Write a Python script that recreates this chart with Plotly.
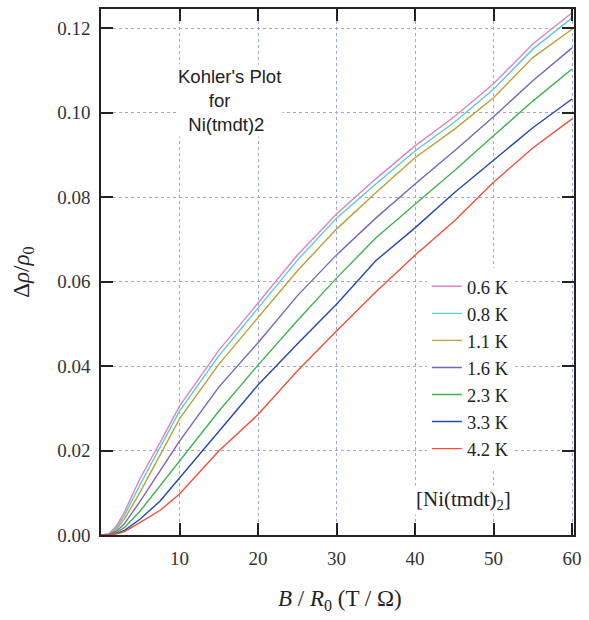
import plotly.graph_objects as go

# ---- data ----
x_vals = [0, 1, 2, 3, 5, 7.5, 10, 15, 20, 25, 30, 35, 40, 45, 50, 55, 60]

labels = ["0.6 K", "0.8 K", "1.1 K", "1.6 K", "2.3 K", "3.3 K", "4.2 K"]

y_06 = [0, 0.0003, 0.0022, 0.0055, 0.0135, 0.0218, 0.0305, 0.0437, 0.0549, 0.0662, 0.0760, 0.0843, 0.0921, 0.0990, 0.1068, 0.1162, 0.1236]
y_08 = [0, 0.0002, 0.0018, 0.0047, 0.0120, 0.0205, 0.0293, 0.0424, 0.0537, 0.0650, 0.0750, 0.0831, 0.0909, 0.0977, 0.1055, 0.1150, 0.1224]
y_11 = [0, 0.0001, 0.0014, 0.0038, 0.0102, 0.0188, 0.0275, 0.0404, 0.0514, 0.0625, 0.0724, 0.0810, 0.0893, 0.0960, 0.1035, 0.1130, 0.1197]
y_16 = [0, 0.0001, 0.0009, 0.0027, 0.0080, 0.0151, 0.0222, 0.0350, 0.0455, 0.0566, 0.0663, 0.0750, 0.0831, 0.0909, 0.0990, 0.1075, 0.1153]
y_23 = [0, 0.0000, 0.0006, 0.0018, 0.0057, 0.0116, 0.0175, 0.0293, 0.0402, 0.0507, 0.0608, 0.0703, 0.0783, 0.0862, 0.0945, 0.1027, 0.1103]
y_33 = [0, 0.0000, 0.0004, 0.0011, 0.0038, 0.0080, 0.0135, 0.0246, 0.0355, 0.0452, 0.0546, 0.0649, 0.0727, 0.0810, 0.0888, 0.0964, 0.1032]
y_42 = [0, 0.0000, 0.0003, 0.0008, 0.0030, 0.0058, 0.0097, 0.0199, 0.0285, 0.0388, 0.0483, 0.0575, 0.0662, 0.0743, 0.0835, 0.0916, 0.0985]

series = [y_06, y_08, y_11, y_16, y_23, y_33, y_42]
colors = ["#dc82c4", "#5ccccc", "#b8a232", "#7c62c0", "#3db34c", "#2149ad", "#f0503a"]

x_ticks = [10, 20, 30, 40, 50, 60]
y_ticks = [0.00, 0.02, 0.04, 0.06, 0.08, 0.10, 0.12]

fig = go.Figure()
for lab, ys, c in zip(labels, series, colors):
    fig.add_trace(go.Scatter(x=x_vals, y=ys, mode="lines", name=lab,
                             line=dict(color=c, width=1.4)))

serif = "Liberation Serif, Times New Roman, serif"
grid = "#9aa6dc"

fig.update_layout(
    width=589, height=620,
    margin=dict(l=101, r=7, t=8, b=85),
    paper_bgcolor="white", plot_bgcolor="white",
    font=dict(family=serif, color="#222"),
    showlegend=True,
    legend=dict(x=0.689, xanchor="left", y=0.508, yanchor="top",
                bgcolor="white", borderwidth=0,
                font=dict(family=serif, size=18.5, color="#222"),
                tracegroupgap=0),
    xaxis=dict(range=[0, 60.25], tickvals=x_ticks, ticktext=[str(v) for v in x_ticks],
               ticks="inside", ticklen=12, tickwidth=1.5, tickcolor="#222",
               showline=True, linecolor="#222", linewidth=1.5, mirror="ticks",
               showgrid=True, gridcolor=grid, griddash="dot", gridwidth=1,
               zeroline=False, ticklabelstandoff=5,
               tickfont=dict(family=serif, size=19, color="#333")),
    yaxis=dict(range=[0, 0.1245], tickvals=y_ticks, tickformat=".2f",
               ticks="inside", ticklen=12, tickwidth=1.5, tickcolor="#222",
               showline=True, linecolor="#222", linewidth=1.5, mirror="ticks",
               showgrid=True, gridcolor=grid, griddash="dot", gridwidth=1,
               zeroline=False, ticklabelstandoff=5,
               tickfont=dict(family=serif, size=19, color="#333")),
    annotations=[
        dict(text="Kohler's Plot<br>&nbsp;&nbsp;&nbsp;&nbsp;&nbsp;&nbsp;for<br>&nbsp;&nbsp;Ni(tmdt)2",
             xref="paper", yref="paper", x=(232 - 101) / 481, y=1 - (100 - 8) / 527,
             xanchor="center", yanchor="middle", align="left", showarrow=False,
             bgcolor="white",
             font=dict(family="Liberation Sans, Arial, sans-serif", size=18.5, color="#222")),
        dict(text="[Ni(tmdt)<sub>2</sub>]",
             xref="paper", yref="paper", x=(470 - 101) / 481, y=1 - (500 - 8) / 527,
             xanchor="center", yanchor="middle", showarrow=False, bgcolor="white",
             font=dict(family=serif, size=21, color="#222")),
        dict(text="<i>B</i> / <i>R</i><sub>0</sub> (T / Ω)",
             xref="paper", yref="paper", x=(344 - 101) / 481, y=1 - (600 - 8) / 527,
             xanchor="center", yanchor="middle", showarrow=False,
             font=dict(family=serif, size=23, color="#222")),
        dict(text="Δ<i>ρ</i>/<i>ρ</i><sub>0</sub>", textangle=-90,
             xref="paper", yref="paper", x=(22 - 101) / 481, y=1 - (272 - 8) / 527,
             xanchor="center", yanchor="middle", showarrow=False,
             font=dict(family=serif, size=23, color="#222")),
    ],
)

fig.write_html("out.html")
